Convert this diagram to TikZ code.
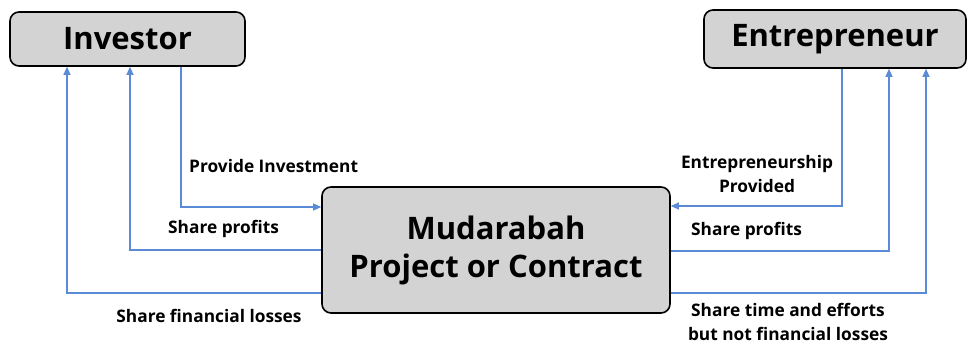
\documentclass[tikz,border=0pt]{standalone}
\usepackage{fontspec}
\setmainfont{Open Sans}
\usetikzlibrary{arrows.meta}
\definecolor{boxgray}{HTML}{D3D3D3}
\definecolor{flowblue}{HTML}{5B8BD6}
\begin{document}
\begin{tikzpicture}[x=1pt,y=-1pt,
  party/.style={draw=black,line width=1.6pt,fill=boxgray,rounded corners=9pt,
    font=\bfseries\fontsize{31}{38}\selectfont,inner sep=0pt},
  flow/.style={draw=flowblue,line width=1.1pt},
  flowarrow/.style={flow,-{Triangle[length=8pt,width=7pt]}},
  lbl/.style={font=\bfseries\fontsize{17.3}{24}\selectfont,inner sep=0pt,align=center}]
\useasboundingbox (0,0) rectangle (967,345);
% parties and the contract
\node[party,minimum width=235pt,minimum height=54pt] (inv) at (127.5,39) {Investor};
\node[party,minimum width=262pt,minimum height=58pt] (ent) at (835,39) {Entrepreneur};
\node[party,minimum width=348pt,minimum height=126pt,align=center,
  font=\bfseries\fontsize{31}{38}\selectfont] (mud) at (496,250) {Mudarabah\\Project or Contract};
% investor side
\coordinate (i1) at (181,207);
\coordinate (i2) at (130,250);
\coordinate (i3) at (67,293);
\draw[flowarrow] (inv.south -| i1) -- (i1) -- (i1 -| mud.west);
\draw[flowarrow] (i2 -| mud.west) -- (i2) -- (i2 |- inv.south);
\draw[flowarrow] (i3 -| mud.west) -- (i3) -- (i3 |- inv.south);
% entrepreneur side
\coordinate (e1) at (842,206);
\coordinate (e2) at (889,251);
\coordinate (e3) at (926,293);
\draw[flowarrow] (ent.south -| e1) -- (e1) -- (e1 -| mud.east);
\draw[flowarrow] (e2 -| mud.east) -- (e2) -- (e2 |- ent.south);
\draw[flowarrow] (e3 -| mud.east) -- (e3) -- (e3 |- ent.south);
% labels
\node[lbl,anchor=west] (l1) at (189,166) {Provide Investment};
\node[lbl,anchor=west] (l2) at (168,229) {Share profits};
\node[lbl] (l3) at (209,316) {Share financial losses};
\node[lbl] (l4) at (757,174) {Entrepreneurship\\Provided};
\node[lbl,anchor=west] (l5) at (691,231) {Share profits};
\node[lbl] (l6) at (788,322) {Share time and efforts\\but not financial losses};
\end{tikzpicture}
\end{document}
